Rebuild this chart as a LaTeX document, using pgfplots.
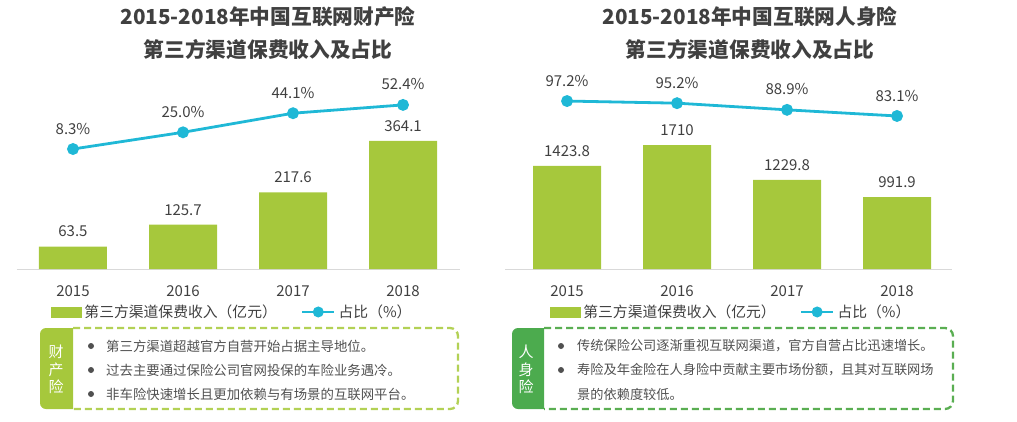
\documentclass[border=0pt]{standalone}
\usepackage{pgfplots}
\pgfplotsset{compat=1.18}
\usepackage{fontspec}
\setmainfont{Noto Sans CJK SC}

\definecolor{barg}{HTML}{A6C83C}
\definecolor{lineb}{HTML}{1FB8D6}
\definecolor{tabg}{HTML}{4CAB4E}
\definecolor{dashl}{HTML}{B3D155}
\definecolor{dashr}{HTML}{5AAE52}
\definecolor{txt}{HTML}{404040}
\definecolor{body}{HTML}{505050}
\definecolor{axgray}{HTML}{D9D9D9}

\pgfplotsset{
  base/.style={
    scale only axis, anchor=south west,
    axis y line=none, ytick=\empty,
    major tick length=0pt,
    /pgf/number format/assume math mode=true,
  },
  barax/.style={base,
    axis x line*=bottom,
    x axis line style={draw=axgray, line width=0.8pt, -},
    xtick={0,1,2,3}, xticklabels={2015,2016,2017,2018},
    xticklabel style={font=\fontsize{15}{15}\selectfont, text=txt, yshift=-13pt},
  },
  lineax/.style={base, axis x line=none, xtick=\empty,
    legend style={anchor=center, draw=none, fill=none, text=txt,
      font=\fontsize{14.8}{15}\selectfont, legend columns=2,
      /tikz/every even column/.append style={column sep=22pt},
      /tikz/every odd column/.append style={column sep=1pt}},
  },
  barplot/.style={ybar, bar width=68pt, fill=barg, draw=none,
    nodes near coords, point meta=explicit symbolic,
    every node near coord/.append style={font=\fontsize{15}{15}\selectfont, text=txt, yshift=6pt}},
  lineplot/.style={color=lineb, line width=2.8pt, mark=*, mark size=4.5pt,
    nodes near coords, point meta=explicit symbolic,
    every node near coord/.append style={font=\fontsize{15}{15}\selectfont, text=txt, yshift=10pt},
    legend image code/.code={\draw[lineb, line width=2.8pt] (0pt,0pt) -- (32pt,0pt);
      \fill[lineb] (16pt,0pt) circle (4pt);}},
  barleg/.style={legend image code/.code={\fill[barg] (0pt,-5pt) rectangle (30pt,5pt);}},
}

\begin{document}
\begin{tikzpicture}
\path (0pt,0pt) rectangle (1017pt,-421pt);

% ---------- left: property insurance ----------
\node[font=\fontsize{20.7}{33}\selectfont\bfseries, text=txt, align=center] at (268pt,-33pt)
  {2015-2018年中国互联网财产险\\第三方渠道保费收入及占比};

\begin{axis}[barax, at={(17pt,-269pt)}, width=443pt, height=174pt,
  xmin=-0.509, xmax=3.518, ymin=0, ymax=494]
  \addplot[barplot] coordinates {(0,63.5)[63.5] (1,125.7)[125.7] (2,217.6)[217.6] (3,364.1)[364.1]};
\end{axis}
\begin{axis}[lineax, at={(17pt,-269pt)}, width=443pt, height=174pt,
  xmin=-0.509, xmax=3.518, ymin=-111.7, ymax=62.3,
  legend style={at={(0.486,-0.247)}}]
  \addlegendimage{barleg}
  \addlegendentry{第三方渠道保费收入（亿元）}
  \addplot[lineplot] coordinates {(0,8.3)[8.3\%] (1,25.0)[25.0\%] (2,44.1)[44.1\%] (3,52.4)[52.4\%]};
  \addlegendentry{占比（\%）}
\end{axis}

\fill[barg] (73pt,-328pt) [rounded corners=6pt] -- (40pt,-328pt) -- (40pt,-409pt) [sharp corners] -- (73pt,-409pt) -- cycle;
\draw[dashl, line width=2.3pt, dash pattern=on 7pt off 4pt, rounded corners=8pt]
  (73pt,-328pt) -- (458pt,-328pt) -- (458pt,-409pt) -- (73pt,-409pt);
\node[text=white, font=\fontsize{15}{17.5}\selectfont, align=center] at (56pt,-369.5pt) {财\\产\\险};
\foreach \yy/\line in {346/第三方渠道超越官方自营开始占据主导地位。,
                       370/过去主要通过保险公司官网投保的车险业务遇冷。,
                       394/非车险快速增长且更加依赖与有场景的互联网平台。}{
  \fill[body] (91pt,-\yy pt) circle (3pt);
  \node[anchor=west, inner sep=0pt, text=body, font=\fontsize{13.4}{13}\selectfont] at (106pt,-\yy pt) {\line};
}

% ---------- right: life insurance ----------
\node[font=\fontsize{20.7}{33}\selectfont\bfseries, text=txt, align=center] at (750pt,-33pt)
  {2015-2018年中国互联网人身险\\第三方渠道保费收入及占比};

\begin{axis}[barax, at={(505pt,-269pt)}, width=447pt, height=174pt,
  xmin=-0.564, xmax=3.5, ymin=0, ymax=2400]
  \addplot[barplot] coordinates {(0,1423.8)[1423.8] (1,1710)[1710] (2,1229.8)[1229.8] (3,991.9)[991.9]};
\end{axis}
\begin{axis}[lineax, at={(505pt,-269pt)}, width=447pt, height=174pt,
  xmin=-0.564, xmax=3.5, ymin=-61.3, ymax=102.9,
  legend style={at={(0.506,-0.247)}}]
  \addlegendimage{barleg}
  \addlegendentry{第三方渠道保费收入（亿元）}
  \addplot[lineplot] coordinates {(0,97.2)[97.2\%] (1,95.2)[95.2\%] (2,88.9)[88.9\%] (3,83.1)[83.1\%]};
  \addlegendentry{占比（\%）}
\end{axis}

\fill[tabg] (544pt,-328pt) [rounded corners=6pt] -- (512pt,-328pt) -- (512pt,-409pt) [sharp corners] -- (544pt,-409pt) -- cycle;
\draw[dashr, line width=2.3pt, dash pattern=on 7pt off 4pt, rounded corners=8pt]
  (544pt,-328pt) -- (953pt,-328pt) -- (953pt,-409pt) -- (544pt,-409pt);
\node[text=white, font=\fontsize{15}{17.5}\selectfont, align=center] at (526pt,-369.5pt) {人\\身\\险};
\fill[body] (561pt,-346pt) circle (3pt);
\node[anchor=west, inner sep=0pt, text=body, font=\fontsize{13.2}{13}\selectfont] at (577pt,-346pt)
  {传统保险公司逐渐重视互联网渠道，官方自营占比迅速增长。};
\fill[body] (561pt,-370pt) circle (3pt);
\node[anchor=west, inner sep=0pt, text=body, font=\fontsize{13.2}{13}\selectfont] at (577pt,-370pt)
  {寿险及年金险在人身险中贡献主要市场份额，且其对互联网场};
\node[anchor=west, inner sep=0pt, text=body, font=\fontsize{13.2}{13}\selectfont] at (577pt,-394pt)
  {景的依赖度较低。};
\end{tikzpicture}
\end{document}
